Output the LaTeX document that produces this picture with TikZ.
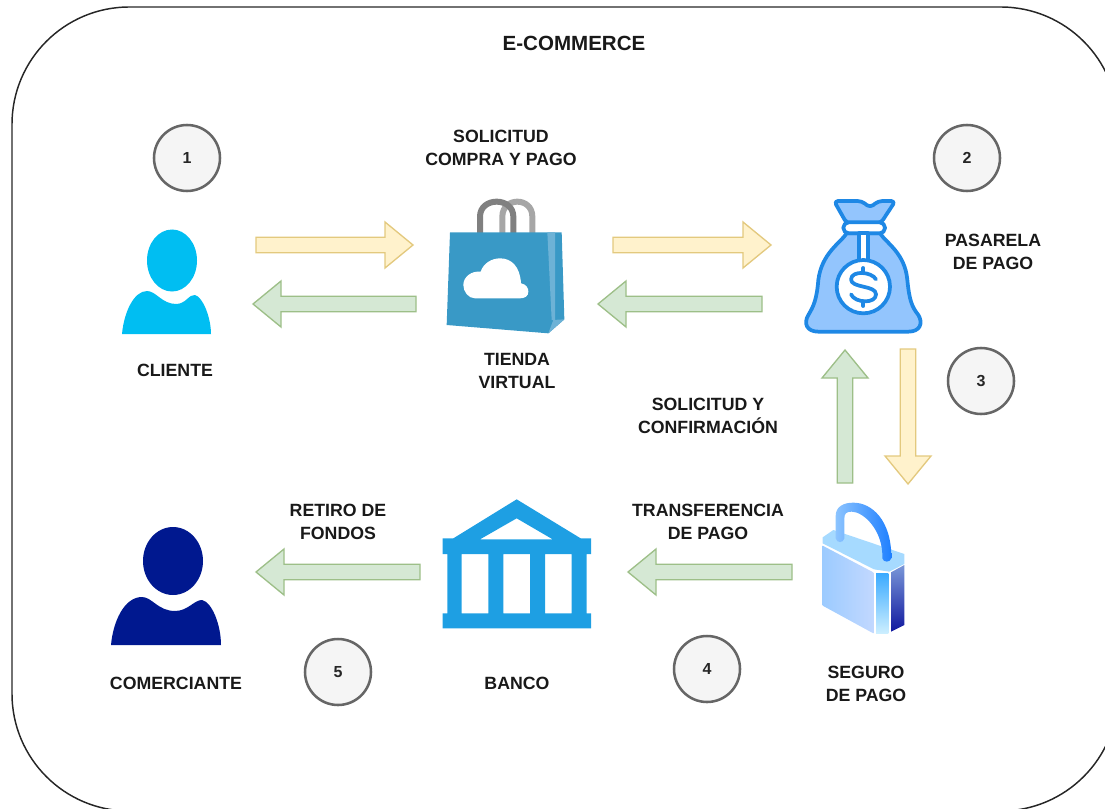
\documentclass[tikz,border=0pt]{standalone}
\usepackage{fontspec}
\setmainfont{Liberation Sans}
\usetikzlibrary{calc}
\definecolor{yfill}{HTML}{FFF2CC}\definecolor{ydraw}{HTML}{E3C97E}
\definecolor{gfill}{HTML}{D5E8D4}\definecolor{gdraw}{HTML}{9DBF88}
\definecolor{cfill}{HTML}{F5F5F5}\definecolor{cdraw}{HTML}{666666}
\definecolor{client}{HTML}{00BEF2}\definecolor{merchant}{HTML}{00188F}
\definecolor{bagblue}{HTML}{3999C6}\definecolor{baglight}{HTML}{6DB2D6}
\definecolor{bankblue}{HTML}{1E9FE3}
\definecolor{sackline}{HTML}{1E88E5}\definecolor{sackfill}{HTML}{93C5FD}
\definecolor{lockl}{HTML}{9CCBFF}\definecolor{lockr}{HTML}{C2D8FF}
\definecolor{locktop}{HTML}{A6DAFF}
\definecolor{stripa}{HTML}{3BAAFF}\definecolor{stripb}{HTML}{CDEFFF}
\definecolor{sidea}{HTML}{7A97D8}\definecolor{sideb}{HTML}{10189F}
\definecolor{shacka}{HTML}{8CC4FF}\definecolor{shackb}{HTML}{1E7FFF}
\tikzset{
  lbl/.style={font=\bfseries\fontsize{13.3}{17.25}\selectfont,align=center,text=black!90,inner sep=0pt},
  numc/.style={circle,draw=cdraw,fill=cfill,line width=1.9pt,minimum size=49.5pt,inner sep=0pt,font=\bfseries\fontsize{12}{14}\selectfont,text=black!85},
  yarrow/.style={draw=ydraw,fill=yfill,line width=1pt},
  garrow/.style={draw=gdraw,fill=gfill,line width=1pt},
  icon/.style={x=0.25pt,y=-0.25pt}
}
\newcommand{\blockarrow}[3]{%
  \coordinate (P) at ($(#3)!21pt!(#2)$);
  \draw[#1] ($(#2)!5.8pt!90:(#3)$) -- ($(P)!5.8pt!90:(#3)$) -- ($(P)!17.25pt!90:(#3)$) -- (#3)
    -- ($(P)!17.25pt!-90:(#3)$) -- ($(P)!5.8pt!-90:(#3)$) -- ($(#2)!5.8pt!-90:(#3)$) -- cycle;}
\begin{document}
\begin{tikzpicture}[x=0.75pt,y=-0.75pt]
\useasboundingbox (0,0) rectangle (1105,809);
\begin{scope}
\clip (0,0) rectangle (1105,809);
\draw[black!85,line width=1.1pt,rounded corners=88pt] (12,7) rectangle (1118,811);
\end{scope}

% labels
\node[lbl,font=\bfseries\fontsize{15.4}{18}\selectfont] (title) at (574,43) {E-COMMERCE};
\node[lbl] (lsol) at (501,147.5) {SOLICITUD\\COMPRA Y PAGO};
\node[lbl] (lcli) at (175,370) {CLIENTE};
\node[lbl] (ltie) at (517,371) {TIENDA\\VIRTUAL};
\node[lbl] (lpas) at (993,252) {PASARELA\\DE PAGO};
\node[lbl] (lcon) at (708,415.5) {SOLICITUD Y\\CONFIRMACIÓN};
\node[lbl] (ltra) at (708,521.5) {TRANSFERENCIA\\DE PAGO};
\node[lbl] (lret) at (338,521.5) {RETIRO DE\\FONDOS};
\node[lbl] (lcom) at (176,683) {COMERCIANTE};
\node[lbl] (lban) at (517,683) {BANCO};
\node[lbl] (lseg) at (866,683.5) {SEGURO\\DE PAGO};

% numbers
\node[numc] (n1) at (187,158) {1};
\node[numc] (n2) at (967,158) {2};
\node[numc] (n3) at (981,381) {3};
\node[numc] (n4) at (707,669) {4};
\node[numc] (n5) at (338,672) {5};

% arrow ends
\coordinate (a1s) at (256,245);\coordinate (a1e) at (413,245);
\coordinate (a2s) at (416,304);\coordinate (a2e) at (253,304);
\coordinate (a3s) at (613,245);\coordinate (a3e) at (771,245);
\coordinate (a4s) at (762,304);\coordinate (a4e) at (598,304);
\coordinate (a5s) at (845,483);\coordinate (a5e) at (845,350);
\coordinate (a6s) at (908,349);\coordinate (a6e) at (908,484);
\coordinate (a7s) at (792,572);\coordinate (a7e) at (628,572);
\coordinate (a8s) at (420,572);\coordinate (a8e) at (256,572);
\blockarrow{yarrow}{a1s}{a1e}
\blockarrow{garrow}{a2s}{a2e}
\blockarrow{yarrow}{a3s}{a3e}
\blockarrow{garrow}{a4s}{a4e}
\blockarrow{garrow}{a5s}{a5e}
\blockarrow{yarrow}{a6s}{a6e}
\blockarrow{garrow}{a7s}{a7e}
\blockarrow{garrow}{a8s}{a8e}

% client
\fill[client] (172,260.5) ellipse (25 and 31);
\fill[client] (122,334) .. controls (124,312) and (134,291) .. (147,291)
  .. controls (156,291) and (162,304) .. (176,304)
  .. controls (186,304) and (189,294) .. (195,295)
  .. controls (203,297) and (211,318) .. (211,334) -- cycle;

% merchant
\fill[merchant] (173,561) ellipse (30 and 34);
\fill[merchant] (111,645) .. controls (113,622) and (124,597) .. (142,597)
  .. controls (152,597) and (158,611) .. (175,611)
  .. controls (188,611) and (194,600) .. (202,600)
  .. controls (212,602) and (221,625) .. (221,645) -- cycle;

% shopping bag
\begin{scope}[shift={(420,180)},icon]
\draw[gray!70,line width=4.5pt] (247,160) -- (247,110) .. controls (247,50) and (337,50) .. (337,110) -- (337,160);
\draw[gray!100,line width=4.5pt] (180,160) -- (180,110) .. controls (180,50) and (280,50) .. (280,110) -- (280,160);
\fill[bagblue] (90,157) -- (425,157) -- (433,418) -- (385,460) -- (80,435) -- cycle;
\fill[baglight] (382,157) -- (405,157) -- (405,420) -- (395,420) -- cycle;
\fill[baglight] (385,460) -- (400,420) -- (433,418) -- cycle;
\fill[white] (165,355) .. controls (145,355) and (130,335) .. (130,315)
  .. controls (130,290) and (155,272) .. (182,275)
  .. controls (190,250) and (215,235) .. (240,235)
  .. controls (275,235) and (300,260) .. (303,310)
  .. controls (318,312) and (326,325) .. (325,335)
  .. controls (325,348) and (315,355) .. (300,355) -- cycle;
\end{scope}

% money sack
\begin{scope}[shift={(790,190)},icon,line width=2.8pt,draw=sackline,line join=round]
\draw[fill=sackfill,draw=sackline] (170,130) .. controls (150,160) and (95,190) .. (85,270)
  .. controls (80,330) and (70,350) .. (55,375)
  .. controls (40,400) and (50,425) .. (85,425) -- (355,425)
  .. controls (390,425) and (400,400) .. (385,375)
  .. controls (365,350) and (358,330) .. (352,270)
  .. controls (345,190) and (290,160) .. (270,130) -- cycle;
\draw[fill=sackfill,draw=sackline,rounded corners=3pt] (132,33) -- (215,33) -- (240,53) -- (265,33) -- (316,33) -- (272,100) -- (170,100) -- cycle;
\draw[fill=white,draw=sackline,rounded corners=4pt] (160,97) rectangle (285,130);
\draw[fill=white,draw=sackline] (207,130) rectangle (233,215);
\draw[fill=white,draw=sackline] (220,290) circle (80);
\draw[draw=sackline,line cap=round] (258,268) .. controls (245,245) and (185,240) .. (183,268)
  .. controls (183,295) and (258,285) .. (258,313)
  .. controls (258,342) and (195,340) .. (183,313);
\draw[draw=sackline,line cap=round] (220,234) -- (220,248) (220,334) -- (220,348);
\end{scope}

% padlock
\begin{scope}[shift={(800,490)},icon]
\fill[locktop] (68,142) -- (100,120) -- (313,192) -- (313,222) -- (268,245) -- (222,238) -- (68,160) -- cycle;
\shade[left color=lockl,right color=lockr] (68,167) -- (220,247) -- (220,430) -- (68,347) -- cycle;
\shade[top color=stripa,bottom color=stripb] (228,250) rectangle (265,430);
\shade[top color=sidea,bottom color=sideb] (273,247) -- (313,225) -- (313,405) -- (273,425) -- cycle;
\shade[left color=shacka,right color=shackb]
  (107,145) -- (107,78) .. controls (107,50) and (130,38) .. (160,38)
  .. controls (215,38) and (275,90) .. (274,205)
  .. controls (270,218) and (250,218) .. (247,205)
  .. controls (250,120) and (190,65) .. (155,65)
  .. controls (140,65) and (133,70) .. (133,85) -- (133,145)
  .. controls (130,160) and (110,160) .. (107,145) -- cycle;
\end{scope}

% bank
\begin{scope}[shift={(430,490)},icon]
\fill[bankblue,even odd rule] (260,28) -- (452,145) -- (483,145) -- (483,192) -- (470,192) -- (470,370) -- (483,370) -- (483,415) -- (38,415) -- (38,370) -- (52,370) -- (52,192) -- (38,192) -- (38,145) -- (70,145) -- cycle
  (260,85) -- (150,148) -- (368,148) -- cycle
  (95,192) rectangle (175,370)
  (220,192) rectangle (300,370)
  (345,192) rectangle (425,370);
\end{scope}
\end{tikzpicture}
\end{document}
